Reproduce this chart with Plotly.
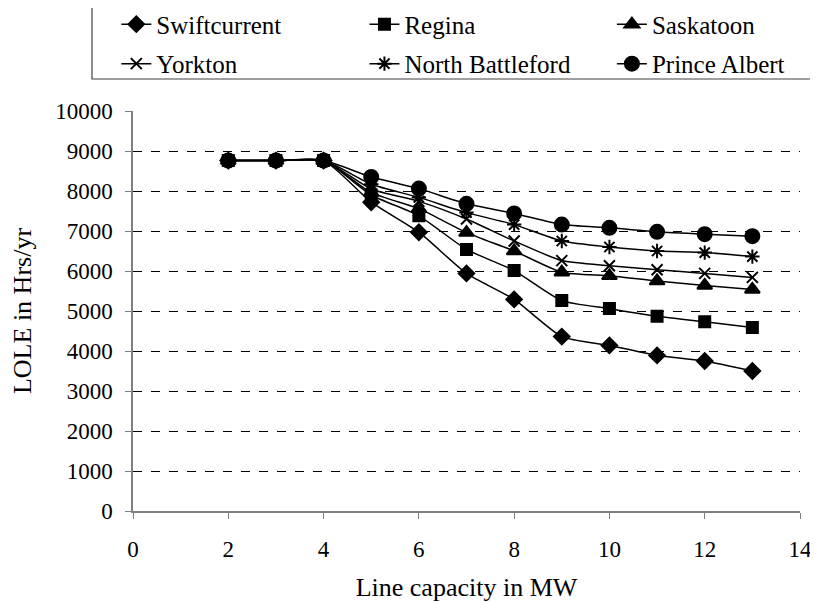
import plotly.graph_objects as go

# Dados
capacidade = [2, 3, 4, 5, 6, 7, 8, 9, 10, 11, 12, 13]
swiftcurrent = [8760, 8760, 8760, 7720, 6970, 5940, 5290, 4360, 4140, 3890, 3750, 3500]
regina = [8760, 8760, 8760, 7900, 7380, 6540, 6010, 5260, 5060, 4870, 4730, 4590]
saskatoon = [8760, 8760, 8760, 7960, 7560, 6960, 6500, 5970, 5880, 5750, 5640, 5540]
yorkton = [8760, 8760, 8760, 8050, 7740, 7300, 6750, 6260, 6130, 6030, 5940, 5840]
north_battleford = [8760, 8760, 8760, 8170, 7840, 7460, 7160, 6750, 6600, 6500, 6460, 6360]
prince_albert = [8760, 8760, 8760, 8350, 8060, 7680, 7440, 7160, 7080, 6980, 6920, 6870]

FONTE = 'Liberation Serif'

series = [
    ('Swiftcurrent', swiftcurrent, 'diamond', 12, 'legend'),
    ('Yorkton', yorkton, 'x-thin-open', 11, 'legend'),
    ('Regina', regina, 'square', 11, 'legend2'),
    ('North Battleford', north_battleford, 'asterisk-open', 12, 'legend2'),
    ('Saskatoon', saskatoon, 'triangle-up', 13, 'legend3'),
    ('Prince Albert', prince_albert, 'circle', 14, 'legend3'),
]

fig = go.Figure()
for nome, valores, simbolo, tam, leg in series:
    fig.add_trace(go.Scatter(
        x=capacidade, y=valores, name=nome, mode='lines+markers',
        line=dict(color='black', width=1.5, shape='spline', smoothing=0.6),
        marker=dict(symbol=simbolo, size=tam, color='black',
                    line=dict(color='black', width=2)),
        legend=leg, legendgroup=nome,
    ))

# Legendas em três colunas
estilo_leg = dict(orientation='v', xanchor='left', yanchor='top', y=1.274,
                  bgcolor='rgba(0,0,0,0)', borderwidth=0, tracegroupgap=4,
                  font=dict(family=FONTE, size=25, color='black'))
fig.update_layout(
    legend=dict(x=-0.025, **estilo_leg),
    legend2=dict(x=0.347, **estilo_leg),
    legend3=dict(x=0.718, **estilo_leg),
)

# Caixa da legenda
fig.add_shape(type='rect', xref='paper', yref='paper',
              x0=-0.0615, x1=1.024, y0=1.08, y1=1.265,
              line=dict(color='#404040', width=1.2))

# a página tem margem de 8 px no body
fig.update_layout(
    width=810, height=594,
    margin=dict(l=125, r=18, t=103, b=91, autoexpand=False),
    plot_bgcolor='white', paper_bgcolor='white',
    font=dict(family=FONTE, size=23, color='black'),
)
fig.update_xaxes(
    range=[0, 14], dtick=2, tick0=0,
    showgrid=False, zeroline=False,
    showline=True, linecolor='#808080', linewidth=1.5,
    ticks='outside', ticklen=6, tickcolor='#808080',
    ticklabelstandoff=11,
    tickfont=dict(family=FONTE, size=23),
    title=dict(text='Line capacity in MW', font=dict(family=FONTE, size=26), standoff=18),
)
fig.update_yaxes(
    range=[0, 10000], dtick=1000, tick0=0, tickformat='d',
    showgrid=True, gridcolor='black', gridwidth=1, griddash='dash',
    zeroline=False,
    showline=True, linecolor='#808080', linewidth=1.5,
    ticks='outside', ticklen=6, tickcolor='#808080',
    ticklabelstandoff=8,
    tickfont=dict(family=FONTE, size=23),
    title=dict(text='LOLE in Hrs/yr', font=dict(family=FONTE, size=26), standoff=16),
)

fig.write_html('out.html')
